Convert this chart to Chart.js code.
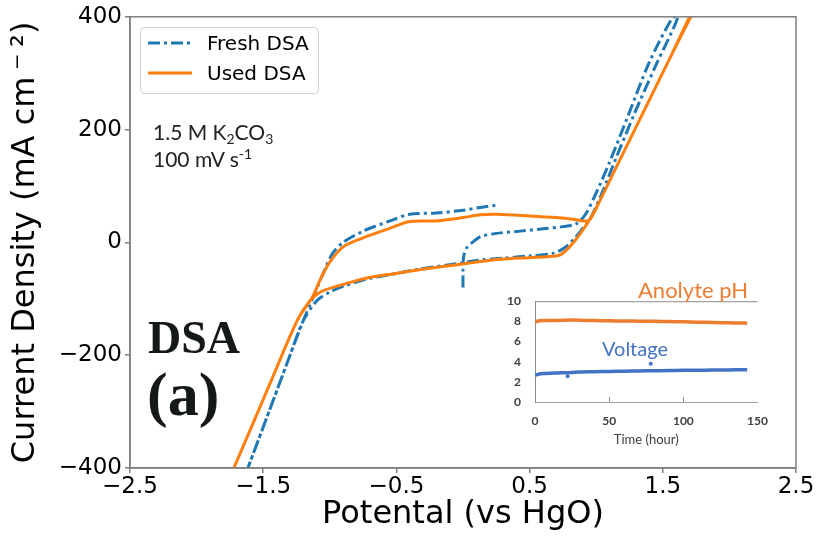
<!DOCTYPE html>
<html><head><meta charset="utf-8">
<script src="https://cdn.jsdelivr.net/npm/chart.js@4.4.1/dist/chart.umd.min.js"></script>
<style>
html,body{margin:0;padding:0;background:#fff;}
#wrap{position:relative;width:817px;height:536px;overflow:hidden;background:#fff;}
#main{position:absolute;left:0;top:0;}
#inset{position:absolute;left:480px;top:280px;}
.note{position:absolute;font-family:Lato,sans-serif;font-size:21px;line-height:21px;color:#222;white-space:nowrap;}
.note sub{font-size:14px;vertical-align:-4px;line-height:0;}
.note sup{font-size:14px;vertical-align:8px;line-height:0;}
.big{position:absolute;font-family:"Liberation Serif",serif;font-weight:bold;color:#141818;white-space:nowrap;}
.inlab{position:absolute;font-family:Lato,sans-serif;white-space:nowrap;}
</style></head>
<body>
<div id="wrap">
<canvas id="main" width="817" height="536"></canvas>
<canvas id="inset" width="300" height="170"></canvas>
<div class="note" style="left:153px;top:121px;">1.5 M K<sub>2</sub>CO<sub>3</sub></div>
<div class="note" style="left:153px;top:148px;">100 mV s<sup>-1</sup></div>
<div class="big" style="left:148px;top:315px;font-size:46px;line-height:46px;">DSA</div>
<div class="big" style="left:147px;top:363px;font-size:62px;line-height:62px;">(a)</div>
<div class="inlab" style="left:638px;top:279px;font-size:22px;line-height:22px;color:#ed7d31;">Anolyte pH</div>
<div class="inlab" style="left:602px;top:338px;font-size:20px;line-height:20px;color:#4472c4;">Voltage</div>
</div>
<script>
// ---------- main chart data (Potential V vs HgO, current density mA cm^-2) ----------
const freshV = [0.00,0.00,0.005,0.03,0.07,0.13,0.25,0.43,0.60,0.75,0.85,0.92,1.00,1.10,1.24,1.40,1.577,
  1.615,1.45,1.29,1.15,1.03,0.95,0.90,0.83,0.76,0.68,0.50,0.30,0.10,0.00,-0.32,-0.50,-0.72,-0.90,-1.00,-1.096,-1.20,-1.30,-1.45,-1.615,
  -1.45,-1.30,-1.20,-1.12,-1.05,-0.98,-0.90,-0.75,-0.55,-0.40,-0.20,0.00,0.13,0.255];
const freshJ = [-80,-50,-25,-9,0,10,16,20,24,28,33,50,88,142,225,320,400,
  400,315,230,150,80,40,25,5,-10,-19,-24,-28,-32,-36,-47,-55,-65,-78,-88,-103,-139,-201,-296,-400,
  -296,-201,-139,-95,-55,-20,0,20,38,50,52,57,62,66];
const usedV = [1.70,1.55,1.35,1.15,1.03,0.95,0.90,0.826,0.70,0.50,0.255,0.13,0.00,-0.20,-0.40,-0.55,-0.75,-0.90,-1.00,-1.07,-1.126,-1.246,-1.45,-1.72,
  -1.45,-1.246,-1.15,-1.07,-0.95,-0.72,-0.50,-0.32,0.00,0.278,0.50,0.65,0.73,0.80,0.87,0.95,1.03,1.15,1.35,1.55,1.71];
const usedJ = [400,325,229,133,75,40,38,41,44,47,50,49,44,38,37,25,8,-8,-35,-65,-95,-139,-251,-400,
  -251,-139,-104,-88,-78,-63,-55,-48,-38,-30,-27,-25,-22,-8,12,40,75,133,229,325,400];
const seriesNames = ['Fresh DSA','Used DSA'];
const xTickVals = [-2.5,-1.5,-0.5,0.5,1.5,2.5];
const yTickVals = [-400,-200,0,200,400];

// ---------- inset data ----------
const phTime = [0,3,10,20,30,40,50,60,70,80,90,100,110,120,130,140,143];
const phVal  = [7.95,8.05,8.08,8.12,8.12,8.08,8.05,8.03,8.02,8.0,7.98,7.95,7.92,7.88,7.85,7.83,7.82];
const voltTime = [0,1,3,6,10,15,20,25,30,40,50,60,70,80,90,100,110,120,130,140,143];
const voltVal  = [2.65,2.7,2.78,2.82,2.85,2.88,2.9,2.93,2.97,3.0,3.03,3.05,3.08,3.1,3.12,3.14,3.15,3.17,3.18,3.2,3.2];
const voltOutTime = [22,78];
const voltOutVal  = [2.55,3.8];
const insetXTicks = [0,50,100,150];
const insetYTicks = [0,2,4,6,8,10];

function pts(xs, ys){ return xs.map((x,i)=>({x:x, y:ys[i]})); }
function fmt(v, d){ const s = Math.abs(v).toFixed(d); return v < 0 ? '\u2212' + s : s; }

const FRAME = '#7f7f7f';
const framePlugin = {
  id:'frame',
  afterDraw(chart){
    const {ctx, chartArea:a} = chart;
    ctx.save();
    ctx.strokeStyle = FRAME; ctx.lineWidth = 1.5;
    ctx.strokeRect(a.left, a.top, a.right - a.left, a.bottom - a.top);
    // legend
    const bx = 140.5, by = 27.5, bw = 178, bh = 66, r = 4;
    ctx.beginPath();
    ctx.moveTo(bx + r, by); ctx.lineTo(bx + bw - r, by); ctx.arcTo(bx + bw, by, bx + bw, by + r, r);
    ctx.lineTo(bx + bw, by + bh - r); ctx.arcTo(bx + bw, by + bh, bx + bw - r, by + bh, r);
    ctx.lineTo(bx + r, by + bh); ctx.arcTo(bx, by + bh, bx, by + bh - r, r);
    ctx.lineTo(bx, by + r); ctx.arcTo(bx, by, bx + r, by, r); ctx.closePath();
    ctx.fillStyle = 'rgba(255,255,255,0.85)'; ctx.fill();
    ctx.strokeStyle = '#d0d0d0'; ctx.lineWidth = 1; ctx.stroke();
    chart.data.datasets.forEach((ds, i) => {
      const y = 43 + 30 * i;
      ctx.beginPath();
      ctx.setLineDash(ds.borderDash || []);
      ctx.strokeStyle = ds.borderColor; ctx.lineWidth = 3;
      ctx.moveTo(148, y); ctx.lineTo(192, y); ctx.stroke();
      ctx.setLineDash([]);
      ctx.fillStyle = '#000'; ctx.font = '20px "DejaVu Sans"';
      ctx.textBaseline = 'alphabetic'; ctx.textAlign = 'left';
      ctx.fillText(ds.label, 207, y + 7);
    });
    ctx.restore();
  }
};

new Chart(document.getElementById('main'), {
  type:'scatter',
  data:{ datasets:[
    { label: seriesNames[0], data: pts(freshV, freshJ), showLine:true, borderColor:'#1f77b4', backgroundColor:'#1f77b4',
      borderWidth:3, borderDash:[12,4,3,4], pointRadius:0, tension:0.3, order:1 },
    { label: seriesNames[1], data: pts(usedV, usedJ), showLine:true, borderColor:'#ff7f0e', backgroundColor:'#ff7f0e',
      borderWidth:3, pointRadius:0, tension:0.3, order:0 }
  ]},
  options:{
    responsive:false, animation:false, devicePixelRatio:1,
    layout:{ padding:{ top:15, right:21, left:0, bottom:0 } },
    plugins:{ legend:{display:false}, tooltip:{enabled:false} },
    scales:{
      x:{ type:'linear', min:-2.5, max:2.5,
        afterBuildTicks(s){ s.ticks = xTickVals.map(v=>({value:v})); },
        afterFit(s){ s.height = 68; },
        ticks:{ callback:v=>fmt(v,1), font:{family:'DejaVu Sans', size:23}, color:'#000', padding:0, maxRotation:0, autoSkip:false },
        grid:{ drawOnChartArea:false, tickLength:5, color:FRAME, lineWidth:1.5 },
        border:{ display:true, color:FRAME, width:1.5 },
        title:{ display:true, text:'Potental (vs HgO)', font:{family:'DejaVu Sans', size:32}, color:'#000', padding:{top:0,bottom:2} }
      },
      y:{ type:'linear', min:-400, max:400,
        afterBuildTicks(s){ s.ticks = yTickVals.map(v=>({value:v})); },
        afterFit(s){ s.width = 130; },
        ticks:{ callback:v=>fmt(v,0), font:{family:'DejaVu Sans', size:23}, color:'#000', padding:3, autoSkip:false },
        grid:{ drawOnChartArea:false, tickLength:5, color:FRAME, lineWidth:1.5 },
        border:{ display:true, color:FRAME, width:1.5 },
        title:{ display:true, text:'Current Density (mA cm\u2009\u207B\u2009\u00B2)', font:{family:'DejaVu Sans', size:32}, color:'#000', padding:{top:6,bottom:0} }
      }
    }
  },
  plugins:[framePlugin]
});

const insetFrame = {
  id:'insetFrame',
  afterDraw(chart){
    const {ctx, chartArea:a, scales} = chart;
    ctx.save();
    ctx.strokeStyle = '#8c8c8c'; ctx.lineWidth = 1;
    ctx.beginPath(); ctx.moveTo(a.left, a.top + 0.5); ctx.lineTo(a.right, a.top + 0.5); ctx.stroke();
    [50,100].forEach(v => {
      const x = Math.round(scales.x.getPixelForValue(v)) + 0.5;
      ctx.beginPath(); ctx.moveTo(x, a.bottom); ctx.lineTo(x, a.bottom - 5); ctx.stroke();
    });
    ctx.restore();
  }
};

new Chart(document.getElementById('inset'), {
  type:'scatter',
  data:{ datasets:[
    { label:'Anolyte pH', data: pts(phTime, phVal), showLine:true, borderColor:'#ed7d31', backgroundColor:'#ed7d31', borderWidth:3.5, pointRadius:0, tension:0.3 },
    { label:'Voltage', data: pts(voltTime, voltVal), showLine:true, borderColor:'#4472c4', backgroundColor:'#4472c4', borderWidth:3.5, pointRadius:0, tension:0.3 },
    { label:'Voltage outliers', data: pts(voltOutTime, voltOutVal), showLine:false, borderColor:'#4472c4', backgroundColor:'#4472c4', pointRadius:2, borderWidth:0 }
  ]},
  options:{
    responsive:false, animation:false, devicePixelRatio:1,
    layout:{ padding:{ top:13, right:15, left:0, bottom:0 } },
    plugins:{ legend:{display:false}, tooltip:{enabled:false} },
    scales:{
      x:{ type:'linear', min:0, max:150,
        afterBuildTicks(s){ s.ticks = insetXTicks.map(v=>({value:v})); },
        afterFit(s){ s.height = 48; },
        ticks:{ font:{family:'Lato', size:12, weight:'bold'}, color:'#404040', padding:12, maxRotation:0, autoSkip:false },
        grid:{ display:false, drawTicks:false },
        border:{ display:true, color:'#a0a0a0', width:1 },
        title:{ display:true, text:'Time (hour)', font:{family:'Lato', size:13}, color:'#404040', padding:{top:0,bottom:2} }
      },
      y:{ type:'linear', min:0, max:10,
        afterBuildTicks(s){ s.ticks = insetYTicks.map(v=>({value:v})); },
        afterFit(s){ s.width = 55; },
        ticks:{ font:{family:'Lato', size:12, weight:'bold'}, color:'#404040', padding:14, autoSkip:false },
        grid:{ display:false, drawTicks:false },
        border:{ display:true, color:'#8c8c8c', width:1 }
      }
    }
  },
  plugins:[insetFrame]
});
</script>
</body></html>
